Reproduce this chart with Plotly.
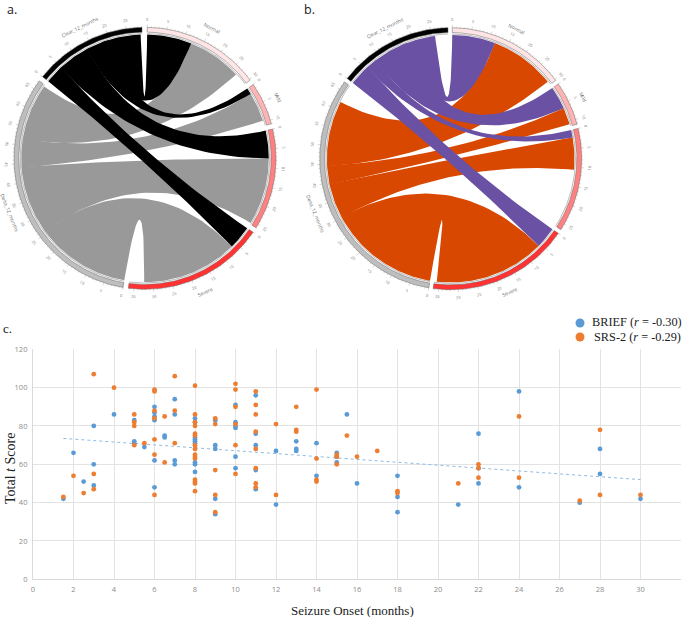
import math
import plotly.graph_objects as go

# ---------- panel c data ----------
BRIEF_X = [1.5,2,2.5,3,3,3,4,5,5,5,5.5,6,6,6,6,6,6,6.5,6.5,7,7,7,7,8,8,8,8,8,8,8,8,8,
           9,9,9,9,9,10,10,10,10,10,10,11,11,11,11,11,12,12,13,13,13,14,14,15,15,15,15.5,16,
           18,18,18,21,22,22,22,24,24,27,28,28,30]
BRIEF_Y = [42,66,51,80,60,49,86,83,72,71,69,90,87,85,83,62,48,75,74,94,86,62,60,84,82,74,73,72,71,61,60,56,
           83,70,68,42,34,91,82,80,79,64,58,96,76,70,57,47,67,39,72,68,67,71,54,66,64,61,86,50,
           54,43,35,39,76,58,50,98,48,40,68,55,42]
SRS_X = [1.5,2,2.5,3,3,3,4,5,5,5,5,5.5,6,6,6,6,6,6,6,6.5,6.5,7,7,7,
         8,8,8,8,8,8,8,8,8,8,8,8,8,8,8,9,9,9,9,9,10,10,10,10,10,10,
         11,11,11,11,11,11,11,11,12,12,13,13,13,14,14,14,14,15,15,15,15.5,16,17,18,18,21,22,22,22,24,24,27,28,28,30]
SRS_Y = [43,54,45,107,55,47,100,86,82,80,70,71,99,98,88,84,73,65,44,85,61,106,88,71,
         101,86,82,80,76,75,70,68,65,64,63,52,51,50,46,84,81,57,44,35,102,99,90,81,70,55,
         98,91,86,77,68,58,50,48,81,44,90,78,77,99,63,52,51,65,64,60,75,64,67,46,45,50,60,58,53,85,53,41,78,44,44]
TREND_X = [1.5, 30]
TREND_Y = [73.5, 52]

# ---------- chord data (order of sectors clockwise from the top) ----------
SECTORS = ["Normal", "Mild", "Moderate", "Severe", "Delta_12_months", "Clear_12_months"]
SECTOR_COLORS = ["#FFE5E5", "#FFB3B3", "#FF8080", "#FF3333", "#BEBEBE", "#000000"]
OUTCOMES = ["Normal", "Mild", "Moderate", "Severe"]

A_TOTALS = [30.3, 11.0, 26.0, 36.4, 67.4, 29.0]
A_CLEAR_AT_OUTCOME = [12.1, 1.7, 7.5, 6.4]
A_CLEAR_AT_BASE = [9.8, 5.2, 8.7, 4.9]
A_DELTA_AT_OUTCOME = [14.7, 7.9, 18.2, 26.0]
A_DELTA_AT_BASE = [15.4, 7.5, 18.5, 25.6]

B_TOTALS = [30.4, 11.3, 26.7, 36.4, 67.2, 29.5]
B_CLEAR_AT_OUTCOME = [11.7, 6.2, 2.0, 5.8]
B_CLEAR_AT_BASE = [8.6, 8.9, 2.8, 5.7]
B_DELTA_AT_OUTCOME = [17.7, 4.6, 8.7, 29.9]
B_DELTA_AT_BASE = [17.7, 4.9, 9.4, 30.2]

TICK_STEP = 5
fig = go.Figure()
annotations = []
R_BAND_OUT, R_BAND_IN, R_RING, R_LINK = 1.0, 0.963, 0.952, 0.945
SEAM = 0.12          # ribbons of one colour overlap slightly at the baseline side
NORMAL_MILD_SEAM = 1.5


def xy(r, deg):
    t = math.radians(deg)
    return r * math.sin(t), r * math.cos(t)


def arc(r, d0, d1):
    n = max(2, int(abs(d1 - d0) / 1.0) + 1)
    return [xy(r, d0 + (d1 - d0) * i / (n - 1)) for i in range(n)]


def bez(d0, d1, r=R_LINK):
    # quadratic curve between two rim points, pulled through the circle's centre
    p0, p2 = xy(r, d0), xy(r, d1)
    out = []
    for i in range(41):
        s = i / 40
        out.append(((1 - s) ** 2 * p0[0] + s ** 2 * p2[0], (1 - s) ** 2 * p0[1] + s ** 2 * p2[1]))
    return out


def ribbon(a0, a1, b0, b1, color, ax):
    pts = arc(R_LINK, a0, a1) + bez(a1, b0) + arc(R_LINK, b0, b1) + bez(b1, a0)
    fig.add_trace(go.Scatter(x=[p[0] for p in pts], y=[p[1] for p in pts], mode="lines", fill="toself",
                             fillcolor=color, line=dict(width=0, color=color), hoverinfo="skip",
                             showlegend=False, xaxis=f"x{ax}", yaxis=f"y{ax}"))


def chord(totals, gap, start, clear_o, clear_b, delta_o, delta_b, c_clear, c_delta, ax):
    per = (360 - gap * len(totals)) / sum(totals)
    starts, a = [], start
    for t in totals:
        starts.append(a)
        a += t * per + gap

    # baseline side positions: severe first, normal last, clockwise
    def base_ranges(widths, s):
        res, cur = {}, s
        for i in range(3, -1, -1):
            res[i] = [cur, cur + widths[i] * per]
            cur += widths[i] * per
        return res

    d_rng = base_ranges(delta_b, starts[4])
    c_rng = base_ranges(clear_b, starts[5])
    clear_ribbons = []
    for i in range(len(OUTCOMES)):
        s0 = starts[i]
        c1 = s0 + clear_o[i] * per
        d1 = c1 + delta_o[i] * per
        lo = d_rng[i][0] - (SEAM if i < 3 else 0)
        hi = d_rng[i][1] + (SEAM if i > 0 else 0)
        ribbon(c1, d1, lo, hi, c_delta, ax)
        lo = c_rng[i][0] - (NORMAL_MILD_SEAM if i == 0 else SEAM if i < 3 else 0)
        hi = c_rng[i][1] + (NORMAL_MILD_SEAM if i == 1 else SEAM if i > 1 else 0)
        clear_ribbons.append((s0, c1, lo, hi))
    for r in clear_ribbons:
        ribbon(r[0], r[1], r[2], r[3], c_clear, ax)

    tx, ty = [], []
    for name, total, col, s in zip(SECTORS, totals, SECTOR_COLORS, starts):
        e = s + total * per
        band = arc(R_BAND_OUT, s, e) + arc(R_BAND_IN, e, s)
        band.append(band[0])
        fig.add_trace(go.Scatter(x=[p[0] for p in band], y=[p[1] for p in band], mode="lines", fill="toself",
                                 fillcolor=col, line=dict(width=0.5, color="#666666"), hoverinfo="skip",
                                 showlegend=False, xaxis=f"x{ax}", yaxis=f"y{ax}"))
        ring = arc(R_RING, s, e)
        fig.add_trace(go.Scatter(x=[p[0] for p in ring], y=[p[1] for p in ring], mode="lines",
                                 line=dict(width=0.5, color="#777777"), hoverinfo="skip",
                                 showlegend=False, xaxis=f"x{ax}", yaxis=f"y{ax}"))
        for v in range(int(total) + 1):
            d = s + v * per
            ln = 0.02 if v % TICK_STEP == 0 else 0.01
            x0, y0 = xy(R_BAND_OUT, d)
            x1, y1 = xy(R_BAND_OUT + ln, d)
            tx += [x0, x1, None]
            ty += [y0, y1, None]
            if v % TICK_STEP == 0:
                lx, ly = xy(1.06, d)
                annotations.append(dict(x=lx, y=ly, xref=f"x{ax}", yref=f"y{ax}", text=str(v), showarrow=False,
                                        font=dict(size=4, color="#808080", family="Open Sans"),
                                        textangle=(d - 180 if 90 < d % 360 < 270 else d)))
        mid = (s + e) / 2
        lx, ly = xy(1.115, mid)
        annotations.append(dict(x=lx, y=ly, xref=f"x{ax}", yref=f"y{ax}", text=name, showarrow=False,
                                font=dict(size=5, color="#707070", family="Open Sans"),
                                textangle=(mid - 180 if 90 < mid < 270 else (mid - 360 if mid > 270 else mid))))
    fig.add_trace(go.Scatter(x=tx, y=ty, mode="lines", line=dict(width=0.3, color="#777777"), hoverinfo="skip",
                             showlegend=False, xaxis=f"x{ax}", yaxis=f"y{ax}"))


chord(A_TOTALS, 2.33, 1.0, A_CLEAR_AT_OUTCOME, A_CLEAR_AT_BASE, A_DELTA_AT_OUTCOME, A_DELTA_AT_BASE,
      "#000000", "#999999", 2)
chord(B_TOTALS, 1.9, 0.7, B_CLEAR_AT_OUTCOME, B_CLEAR_AT_BASE, B_DELTA_AT_OUTCOME, B_DELTA_AT_BASE,
      "#6A51A3", "#D94801", 3)

# ---------- panel c ----------
fig.add_trace(go.Scatter(x=TREND_X, y=TREND_Y, mode="lines", line=dict(color="#8FBBE3", width=1, dash="dot"),
                         showlegend=False, hoverinfo="skip"))
fig.add_trace(go.Scatter(x=BRIEF_X, y=BRIEF_Y, mode="markers", marker=dict(color="#5B9BD5", size=4.8),
                         name="BRIEF", showlegend=False))
fig.add_trace(go.Scatter(x=SRS_X, y=SRS_Y, mode="markers", marker=dict(color="#ED7D31", size=4.8),
                         name="SRS-2", showlegend=False))
fig.add_trace(go.Scatter(x=[None], y=[None], mode="markers", marker=dict(color="#5B9BD5", size=9),
                         name="\u00a0", legend="legend"))
fig.add_trace(go.Scatter(x=[None], y=[None], mode="markers", marker=dict(color="#ED7D31", size=9),
                         name="\u00a0", legend="legend2"))

W, H = 685, 617
SER = "Liberation Serif"
annotations += [
    dict(x=5 / W, y=1 - 9.5 / H, xref="paper", yref="paper", text="a.", showarrow=False, xanchor="left", yanchor="middle",
         font=dict(size=12.5, color="#222222", family="Open Sans")),
    dict(x=302 / W, y=1 - 9.5 / H, xref="paper", yref="paper", text="b.", showarrow=False, xanchor="left", yanchor="middle",
         font=dict(size=12.5, color="#222222", family="Open Sans")),
    dict(x=1 / W, y=1 - 328 / H, xref="paper", yref="paper", text="c.", showarrow=False, xanchor="left", yanchor="middle",
         font=dict(size=13, color="#111111", family=SER)),
    dict(x=590 / W, y=1 - 322 / H, xref="paper", yref="paper", text="BRIEF (<i>r</i> = -0.30)", showarrow=False,
         xanchor="left", yanchor="middle", font=dict(size=12.3, color="#222222", family=SER)),
    dict(x=592 / W, y=1 - 337 / H, xref="paper", yref="paper", text="SRS-2 (<i>r</i> = -0.29)", showarrow=False,
         xanchor="left", yanchor="middle", font=dict(size=12.3, color="#222222", family=SER)),
    dict(x=352 / W, y=1 - 610 / H, xref="paper", yref="paper", text="Seizure Onset (months)", showarrow=False,
         xanchor="center", yanchor="middle", font=dict(size=13, color="#222222", family=SER)),
    dict(x=11 / W, y=1 - 469 / H, xref="paper", yref="paper", text="Total <i>t</i> Score", showarrow=False,
         xanchor="center", yanchor="middle", textangle=-90, font=dict(size=14, color="#222222", family=SER)),
]


def panel_axis(cx, cy, half=140, rad=131):
    return (dict(domain=[(cx - half) / W, (cx + half) / W], range=[-half / rad, half / rad], visible=False, fixedrange=True),
            dict(domain=[1 - (cy + half) / H, 1 - (cy - half) / H], range=[-half / rad, half / rad], visible=False, fixedrange=True))


xa2, ya2 = panel_axis(145, 158.3)
xa3, ya3 = panel_axis(450.7, 158.7)
tick_font = dict(size=7.5, color="#8C8C8C", family="Open Sans")

fig.update_layout(
    template="none",
    width=W, height=H, margin=dict(l=0, r=0, t=0, b=0), paper_bgcolor="white", plot_bgcolor="white",
    xaxis=dict(domain=[33 / W, 681 / W], range=[0, 32], dtick=2, showgrid=True, gridcolor="#E3E3E3", gridwidth=1.1,
               zeroline=False, showline=True, linecolor="#D9D9D9", linewidth=1.1, ticks="", automargin=False,
               tickfont=tick_font, ticklabelstandoff=3),
    yaxis=dict(domain=[1 - 579.3 / H, 1 - 349.3 / H], range=[0, 120], dtick=20, showgrid=True, gridcolor="#E3E3E3",
               gridwidth=1.1, zeroline=False, showline=True, linecolor="#D9D9D9", linewidth=1.1, ticks="",
               automargin=False, tickfont=tick_font, ticklabelstandoff=3),
    xaxis2=xa2, yaxis2=ya2, xaxis3=xa3, yaxis3=ya3,
    legend=dict(x=560 / W, y=1 - 323 / H, xanchor="left", yanchor="middle", bgcolor="rgba(0,0,0,0)",
                font=dict(size=12, color="#222222", family=SER), itemwidth=30),
    legend2=dict(x=560 / W, y=1 - 337 / H, xanchor="left", yanchor="middle", bgcolor="rgba(0,0,0,0)",
                 font=dict(size=12, color="#222222", family=SER), itemwidth=30),
    annotations=annotations, hovermode="closest",
)
fig.write_html("out.html", config=dict(displayModeBar=False), post_script="document.body.style.margin='0';")
